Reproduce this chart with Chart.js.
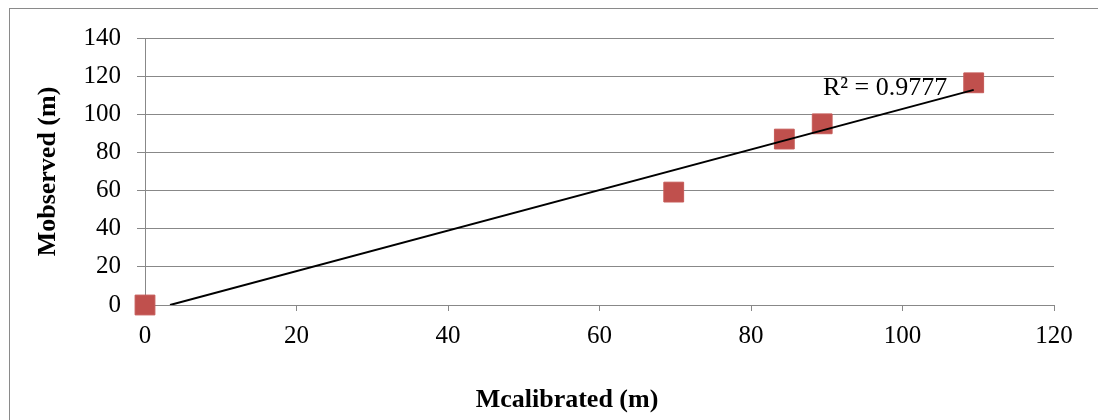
<!DOCTYPE html>
<html>
<head>
<meta charset="utf-8">
<script src="https://cdn.jsdelivr.net/npm/chart.js@4/dist/chart.umd.min.js"></script>
<style>
    html, body { margin: 0; padding: 0; background: #fff; }
    #wrap { width: 1098px; height: 420px; position: relative; }
</style>
</head>
<body>
<div id="wrap"><canvas id="scatterChart"></canvas></div>
<script>
// values
const calibrated = [0, 69.8, 84.4, 89.4, 109.4];
const observed = [0, 59.2, 87, 95, 116.5];
// trendline end points (clipped at y = 0 like the original)
const trendX = [3.3, 109.4];
const trendY = [0, 112.8];
const rSquaredText = 'R² = 0.9777';
const rSquaredPos = [89.5, 113.8];
const xTitle = 'Mcalibrated (m)';
const yTitle = 'Mobserved (m)';

const serif = "'Liberation Serif', 'Times New Roman', serif";
const gridGray = '#888888';

const frameAndLabels = {
    id: 'frameAndLabels',
    afterDraw(chart) {
        const ctx = chart.ctx;
        const xs = chart.scales.x;
        const ys = chart.scales.y;
        ctx.save();
        // outer frame of the chart object
        ctx.strokeStyle = '#8a8a8a';
        ctx.lineWidth = 1;
        ctx.strokeRect(9.5, 8.5, 1200, 500);
        // R squared label
        ctx.fillStyle = '#000';
        ctx.font = '26px ' + serif;
        ctx.textAlign = 'left';
        ctx.textBaseline = 'middle';
        ctx.fillText(rSquaredText, xs.getPixelForValue(rSquaredPos[0]), ys.getPixelForValue(rSquaredPos[1]));
        // x axis title, Excel puts it a bit left of the plot centre
        ctx.font = 'bold 26px ' + serif;
        ctx.textAlign = 'center';
        ctx.fillText(xTitle, 567, 400);
        ctx.restore();
    }
};

document.addEventListener('DOMContentLoaded', function() {
    const ctx = document.getElementById('scatterChart').getContext('2d');
    new Chart(ctx, {
        type: 'scatter',
        data: {
            datasets: [{
                type: 'line',
                label: 'Linear trend',
                data: trendX.map((x, i) => ({ x: x, y: trendY[i] })),
                borderColor: '#000000',
                borderWidth: 2,
                pointRadius: 0,
                fill: false,
                order: 0
            }, {
                label: 'Mobserved',
                data: calibrated.map((x, i) => ({ x: x, y: observed[i] })),
                backgroundColor: '#C0504D',
                borderColor: '#C55A57',
                borderWidth: 1,
                pointStyle: 'rect',
                pointRadius: 14,
                pointHoverRadius: 14,
                clip: false,
                order: 1
            }]
        },
        options: {
            responsive: true,
            maintainAspectRatio: false,
            animation: false,
            layout: {
                padding: { left: 0, right: 44, top: 38, bottom: 0 }
            },
            plugins: {
                legend: { display: false },
                tooltip: { enabled: false }
            },
            scales: {
                x: {
                    type: 'linear',
                    min: 0,
                    max: 120,
                    afterFit: function(scale) { scale.height = 115; },
                    ticks: {
                        stepSize: 20,
                        color: '#000',
                        padding: 10,
                        maxRotation: 0,
                        font: { family: serif, size: 25 }
                    },
                    grid: {
                        drawOnChartArea: false,
                        drawTicks: true,
                        tickLength: 6,
                        color: gridGray
                    },
                    border: { color: gridGray, width: 1 }
                },
                y: {
                    min: 0,
                    max: 140,
                    afterFit: function(scale) { scale.width = 145; },
                    ticks: {
                        stepSize: 20,
                        color: '#000',
                        padding: 16,
                        font: { family: serif, size: 25 }
                    },
                    grid: {
                        color: gridGray,
                        tickLength: 8
                    },
                    border: { color: gridGray, width: 1 },
                    title: {
                        display: true,
                        text: yTitle,
                        color: '#000',
                        padding: { top: 33, bottom: 0 },
                        font: { family: serif, size: 26, weight: 'bold' }
                    }
                }
            }
        },
        plugins: [frameAndLabels]
    });
});
</script>
</body>
</html>
